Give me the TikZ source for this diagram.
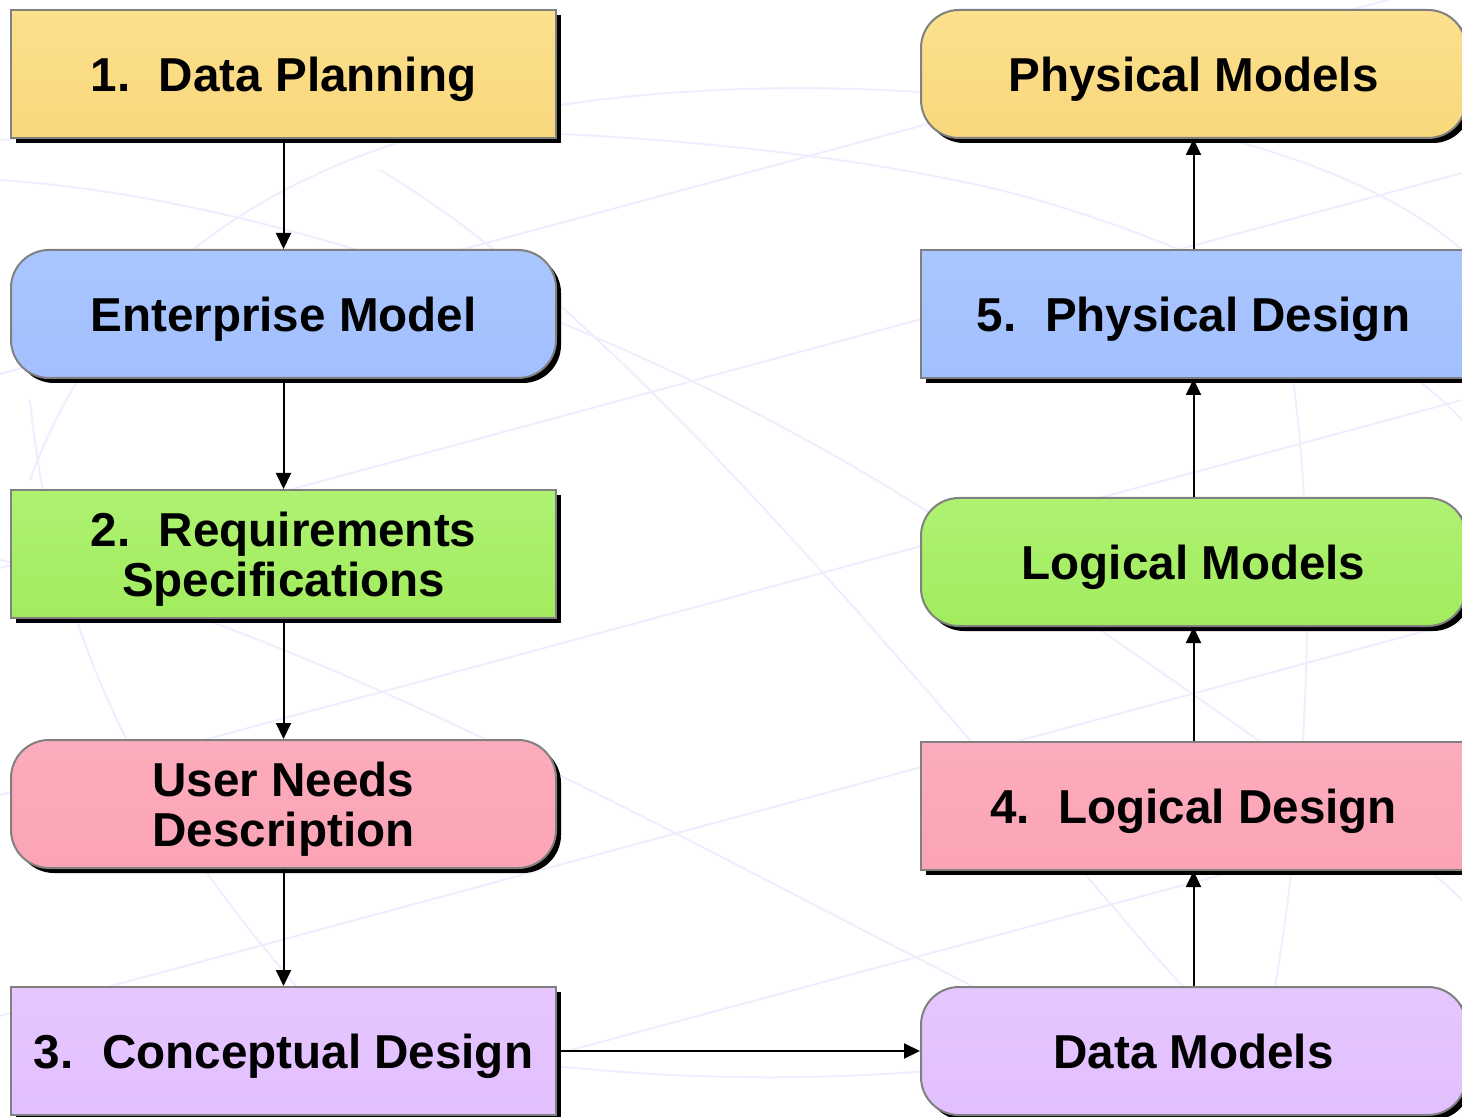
\documentclass[tikz,border=0pt]{standalone}
\usepackage{fontspec}
\setmainfont{Liberation Sans}
\usetikzlibrary{arrows.meta,shadows}
\definecolor{bgline}{RGB}{238,238,255}
\definecolor{boxgray}{RGB}{128,128,128}
\definecolor{yelT}{RGB}{252,224,142}\definecolor{yelB}{RGB}{249,216,124}
\definecolor{bluT}{RGB}{170,198,255}\definecolor{bluB}{RGB}{162,192,255}
\definecolor{grnT}{RGB}{174,242,114}\definecolor{grnB}{RGB}{162,236,94}
\definecolor{pnkT}{RGB}{252,172,188}\definecolor{pnkB}{RGB}{251,164,181}
\definecolor{purT}{RGB}{229,198,255}\definecolor{purB}{RGB}{226,192,255}
\tikzset{
  stagebox/.style={draw=boxgray, line width=1pt, minimum width=272.5pt, minimum height=64pt,
    inner sep=0pt, align=center, font=\fontsize{23.8pt}{25pt}\selectfont\bfseries,
    text depth=0pt,
    drop shadow={shadow xshift=2.5pt, shadow yshift=-2.5pt, fill=black, opacity=1}},
  oneline/.style={text height=17.1pt},
  roundbox/.style={stagebox, rounded corners=19pt},
  yel/.style={top color=yelT, bottom color=yelB},
  blu/.style={top color=bluT, bottom color=bluB},
  grn/.style={top color=grnT, bottom color=grnB},
  pnk/.style={top color=pnkT, bottom color=pnkB},
  pur/.style={top color=purT, bottom color=purB},
  flow/.style={line width=1pt, -{Triangle[length=8pt,width=7.5pt]}},
  bg/.style={draw=bgline, line width=1pt}
}
\begin{document}
\begin{tikzpicture}[x=0.5pt,y=-0.5pt]
\useasboundingbox (0,0) rectangle (1462,1117);
% faint globe background
\draw[bg] (0,374) -- (1462,-20);
\draw[bg] (0,568) -- (1462,173);
\draw[bg] (0,795) -- (1462,400);
\draw[bg] (0,1016) -- (1462,621);
\draw[bg] (200,1150) -- (1462,810);
\draw[bg] (30,480) .. controls (150,150) and (500,90) .. (800,88) .. controls (1100,90) and (1350,150) .. (1462,250);
\draw[bg] (0,140) .. controls (300,120) and (700,120) .. (1000,190) .. controls (1200,240) and (1400,350) .. (1462,420);
\draw[bg] (0,180) .. controls (300,200) and (700,350) .. (1000,560) .. controls (1200,700) and (1380,820) .. (1462,900);
\draw[bg] (380,170) .. controls (600,300) and (850,600) .. (1150,950) -- (1300,1117);
\draw[bg] (0,560) .. controls (300,620) and (700,850) .. (1000,1000) -- (1150,1117);
\draw[bg] (200,1000) .. controls (500,1080) and (800,1100) .. (1100,1050);
\draw[bg] (30,400) .. controls (60,700) and (200,900) .. (420,1117);
\draw[bg] (1280,300) .. controls (1320,500) and (1320,800) .. (1250,1117);
% left column
\node[stagebox, oneline, yel] (dp) at (283.5,74) {1.\hspace{0.6em}Data Planning};
\node[roundbox, oneline, blu] (em) at (283.5,314) {Enterprise Model};
\node[stagebox, grn] (rs) at (283.5,554) {2.\hspace{0.6em}Requirements\\Specifications};
\node[roundbox, pnk] (un) at (283.5,804) {User Needs\\Description};
\node[stagebox, oneline, pur] (cd) at (283.5,1051) {3.\hspace{0.6em}Conceptual Design};
% right column
\node[roundbox, oneline, yel] (pm) at (1193.5,74) {Physical Models};
\node[stagebox, oneline, blu] (pd) at (1193.5,314) {5.\hspace{0.6em}Physical Design};
\node[roundbox, oneline, grn] (lm) at (1193.5,562) {Logical Models};
\node[stagebox, oneline, pnk] (ld) at (1193.5,806) {4.\hspace{0.6em}Logical Design};
\node[roundbox, oneline, pur] (dm) at (1193.5,1051) {Data Models};
% connectors
\draw[flow] (dp) -- (em);
\draw[flow] (em) -- (rs);
\draw[flow] (rs) -- (un);
\draw[flow] (un) -- (cd);
\draw[flow] (cd) -- (dm);
\draw[flow] (dm) -- (ld);
\draw[flow] (ld) -- (lm);
\draw[flow] (lm) -- (pd);
\draw[flow] (pd) -- (pm);
\end{tikzpicture}
\end{document}
